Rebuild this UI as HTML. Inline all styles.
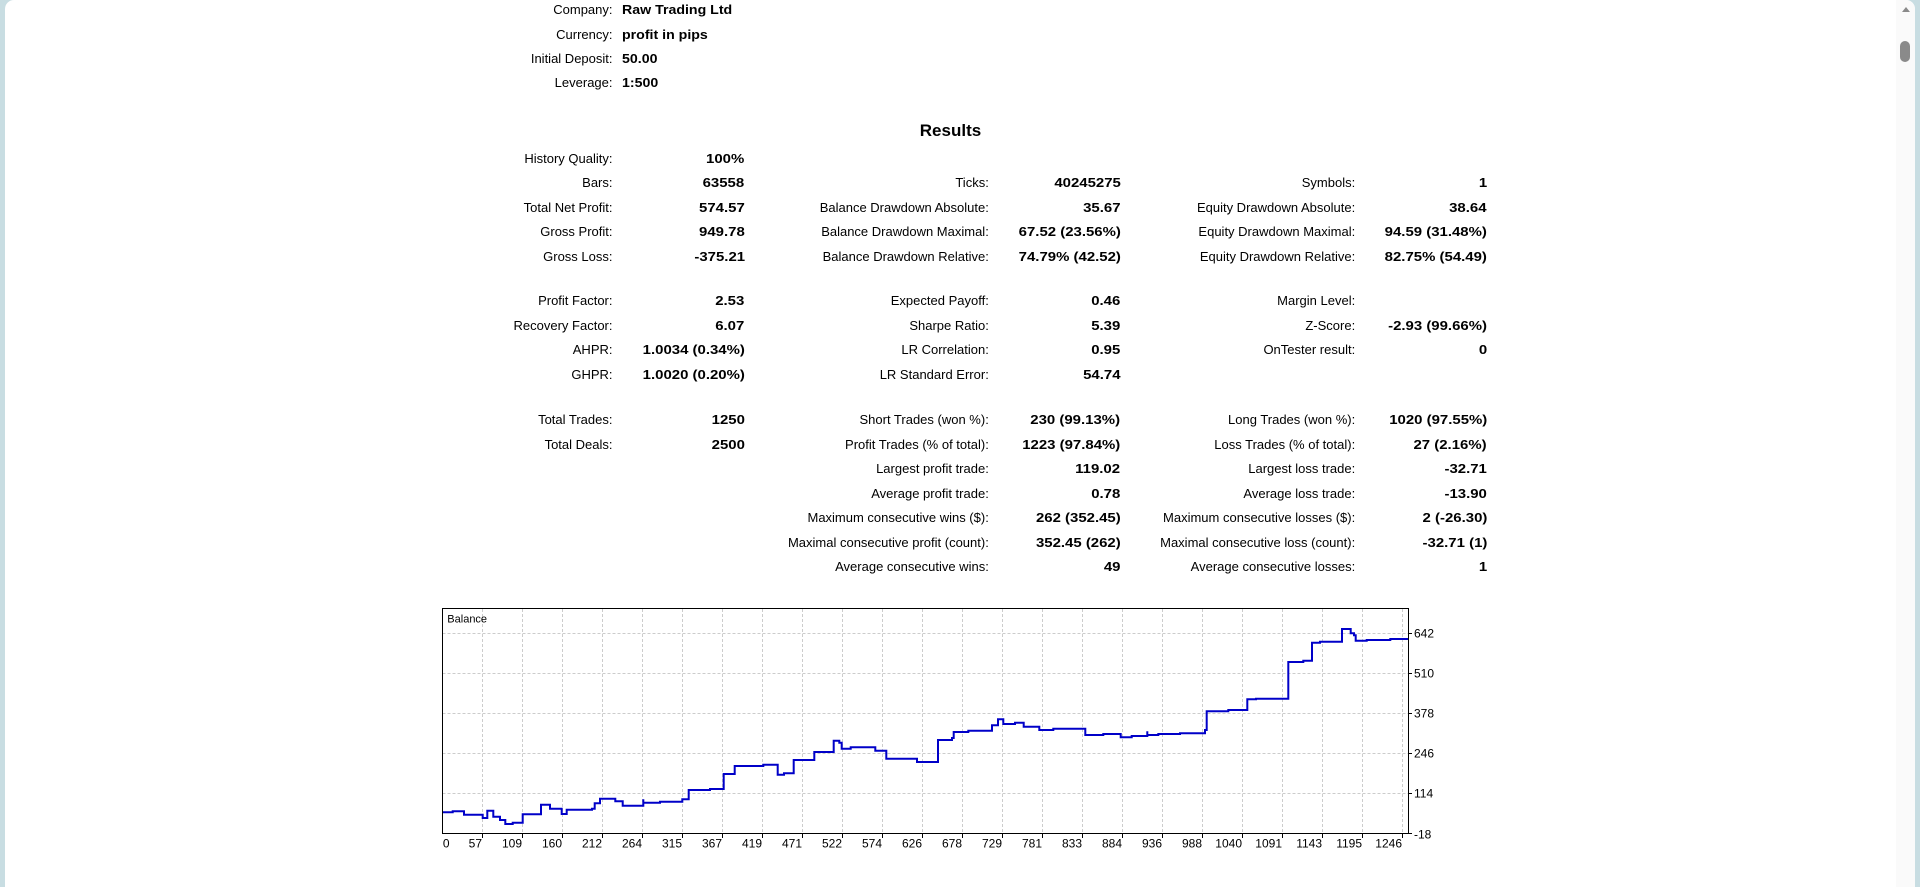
<!DOCTYPE html>
<html><head><meta charset="utf-8"><style>
html,body{margin:0;padding:0}
body{width:1920px;height:887px;overflow:hidden;background:#c8dde2;position:relative;font-family:"Liberation Sans",sans-serif}
#panel{position:absolute;left:5px;top:0;width:1910px;height:887px;background:#fff;border-radius:9px 9px 0 0}
#track{position:absolute;left:1896px;top:0;width:19px;height:887px;background:#fafafa;border-radius:0 9px 0 0}
#thumb{position:absolute;left:1900px;top:41px;width:10px;height:21px;background:#8a8a8a;border-radius:5px}
#arrow{position:absolute;left:1902px;top:7px;width:0;height:0;border-left:4px solid transparent;border-right:4px solid transparent;border-bottom:5px solid #8a8a8a}
.t{position:absolute;white-space:nowrap;font-size:13px;line-height:16px;color:#000}
.v{font-weight:bold;transform:scaleX(1.15);transform-origin:100% 50%}
.vl{font-weight:bold;transform:scaleX(1.09);transform-origin:0 50%}
.a{right:1307.5px}.b{right:1175.4px}.c{right:931.2px}.d{right:799.5px}.e{right:564.8px}.f{right:433px}
#title{position:absolute;left:850px;width:201px;text-align:center;top:121px;font-weight:bold;font-size:17px;line-height:20px}
svg{position:absolute;left:0;top:0}
</style></head><body>
<div id="panel"></div>
<div id="track"></div>
<div id="arrow"></div>
<div id="thumb"></div>

<div class="t a" style="top:1.8px">Company:</div><div class="t vl" style="left:622.4px;top:1.8px">Raw Trading Ltd</div>
<div class="t a" style="top:26.8px">Currency:</div><div class="t vl" style="left:622.4px;top:26.8px">profit in pips</div>
<div class="t a" style="top:50.8px">Initial Deposit:</div><div class="t vl" style="left:622.4px;top:50.8px">50.00</div>
<div class="t a" style="top:75.3px">Leverage:</div><div class="t vl" style="left:622.4px;top:75.3px">1:500</div>

<div id="title">Results</div>

<!-- row 0 -->
<div class="t a" style="top:150.6px">History Quality:</div><div class="t v b" style="top:150.6px">100%</div>
<!-- row 1 -->
<div class="t a" style="top:175.1px">Bars:</div><div class="t v b" style="top:175.1px">63558</div>
<div class="t c" style="top:175.1px">Ticks:</div><div class="t v d" style="top:175.1px">40245275</div>
<div class="t e" style="top:175.1px">Symbols:</div><div class="t v f" style="top:175.1px">1</div>
<!-- row 2 -->
<div class="t a" style="top:199.6px">Total Net Profit:</div><div class="t v b" style="top:199.6px">574.57</div>
<div class="t c" style="top:199.6px">Balance Drawdown Absolute:</div><div class="t v d" style="top:199.6px">35.67</div>
<div class="t e" style="top:199.6px">Equity Drawdown Absolute:</div><div class="t v f" style="top:199.6px">38.64</div>
<!-- row 3 -->
<div class="t a" style="top:224.1px">Gross Profit:</div><div class="t v b" style="top:224.1px">949.78</div>
<div class="t c" style="top:224.1px">Balance Drawdown Maximal:</div><div class="t v d" style="top:224.1px">67.52 (23.56%)</div>
<div class="t e" style="top:224.1px">Equity Drawdown Maximal:</div><div class="t v f" style="top:224.1px">94.59 (31.48%)</div>
<!-- row 4 -->
<div class="t a" style="top:248.6px">Gross Loss:</div><div class="t v b" style="top:248.6px">-375.21</div>
<div class="t c" style="top:248.6px">Balance Drawdown Relative:</div><div class="t v d" style="top:248.6px">74.79% (42.52)</div>
<div class="t e" style="top:248.6px">Equity Drawdown Relative:</div><div class="t v f" style="top:248.6px">82.75% (54.49)</div>
<!-- row 5 -->
<div class="t a" style="top:293.3px">Profit Factor:</div><div class="t v b" style="top:293.3px">2.53</div>
<div class="t c" style="top:293.3px">Expected Payoff:</div><div class="t v d" style="top:293.3px">0.46</div>
<div class="t e" style="top:293.3px">Margin Level:</div>
<!-- row 6 -->
<div class="t a" style="top:317.8px">Recovery Factor:</div><div class="t v b" style="top:317.8px">6.07</div>
<div class="t c" style="top:317.8px">Sharpe Ratio:</div><div class="t v d" style="top:317.8px">5.39</div>
<div class="t e" style="top:317.8px">Z-Score:</div><div class="t v f" style="top:317.8px">-2.93 (99.66%)</div>
<!-- row 7 -->
<div class="t a" style="top:342.3px">AHPR:</div><div class="t v b" style="top:342.3px">1.0034 (0.34%)</div>
<div class="t c" style="top:342.3px">LR Correlation:</div><div class="t v d" style="top:342.3px">0.95</div>
<div class="t e" style="top:342.3px">OnTester result:</div><div class="t v f" style="top:342.3px">0</div>
<!-- row 8 -->
<div class="t a" style="top:366.8px">GHPR:</div><div class="t v b" style="top:366.8px">1.0020 (0.20%)</div>
<div class="t c" style="top:366.8px">LR Standard Error:</div><div class="t v d" style="top:366.8px">54.74</div>
<!-- row 9 -->
<div class="t a" style="top:412.3px">Total Trades:</div><div class="t v b" style="top:412.3px">1250</div>
<div class="t c" style="top:412.3px">Short Trades (won %):</div><div class="t v d" style="top:412.3px">230 (99.13%)</div>
<div class="t e" style="top:412.3px">Long Trades (won %):</div><div class="t v f" style="top:412.3px">1020 (97.55%)</div>
<!-- row 10 -->
<div class="t a" style="top:436.8px">Total Deals:</div><div class="t v b" style="top:436.8px">2500</div>
<div class="t c" style="top:436.8px">Profit Trades (% of total):</div><div class="t v d" style="top:436.8px">1223 (97.84%)</div>
<div class="t e" style="top:436.8px">Loss Trades (% of total):</div><div class="t v f" style="top:436.8px">27 (2.16%)</div>
<!-- row 11 -->
<div class="t c" style="top:461.3px">Largest profit trade:</div><div class="t v d" style="top:461.3px">119.02</div>
<div class="t e" style="top:461.3px">Largest loss trade:</div><div class="t v f" style="top:461.3px">-32.71</div>
<!-- row 12 -->
<div class="t c" style="top:485.8px">Average profit trade:</div><div class="t v d" style="top:485.8px">0.78</div>
<div class="t e" style="top:485.8px">Average loss trade:</div><div class="t v f" style="top:485.8px">-13.90</div>
<!-- row 13 -->
<div class="t c" style="top:510.3px">Maximum consecutive wins ($):</div><div class="t v d" style="top:510.3px">262 (352.45)</div>
<div class="t e" style="top:510.3px">Maximum consecutive losses ($):</div><div class="t v f" style="top:510.3px">2 (-26.30)</div>
<!-- row 14 -->
<div class="t c" style="top:534.8px">Maximal consecutive profit (count):</div><div class="t v d" style="top:534.8px">352.45 (262)</div>
<div class="t e" style="top:534.8px">Maximal consecutive loss (count):</div><div class="t v f" style="top:534.8px">-32.71 (1)</div>
<!-- row 15 -->
<div class="t c" style="top:559.3px">Average consecutive wins:</div><div class="t v d" style="top:559.3px">49</div>
<div class="t e" style="top:559.3px">Average consecutive losses:</div><div class="t v f" style="top:559.3px">1</div>

<svg width="1920" height="887" viewBox="0 0 1920 887" xmlns="http://www.w3.org/2000/svg">
<g stroke="#cccccc" stroke-width="1" stroke-dasharray="3,2" fill="none">
<path d="M442.5 633.5H1408.5M442.5 673.5H1408.5M442.5 713.5H1408.5M442.5 753.5H1408.5M442.5 793.5H1408.5"/>
<path d="M482.5 609V833M522.5 609V833M562.5 609V833M602.5 609V833M642.5 609V833M682.5 609V833M722.5 609V833M762.5 609V833M802.5 609V833M842.5 609V833M882.5 609V833M922.5 609V833M962.5 609V833M1002.5 609V833M1042.5 609V833M1082.5 609V833M1122.5 609V833M1162.5 609V833M1202.5 609V833M1242.5 609V833M1282.5 609V833M1322.5 609V833M1362.5 609V833M1402.5 609V833"/>
</g>
<rect x="442.5" y="608.5" width="966" height="225" fill="none" stroke="#000" stroke-width="1"/>
<g stroke="#000" stroke-width="1">
<path d="M482.5 834V838M522.5 834V838M562.5 834V838M602.5 834V838M642.5 834V838M682.5 834V838M722.5 834V838M762.5 834V838M802.5 834V838M842.5 834V838M882.5 834V838M922.5 834V838M962.5 834V838M1002.5 834V838M1042.5 834V838M1082.5 834V838M1122.5 834V838M1162.5 834V838M1202.5 834V838M1242.5 834V838M1282.5 834V838M1322.5 834V838M1362.5 834V838M1402.5 834V838"/>
<path d="M1409 633.5H1412M1409 673.5H1412M1409 713.5H1412M1409 753.5H1412M1409 793.5H1412M1409 833.5H1412"/>
</g>
<path fill="none" stroke="#0000c8" stroke-width="2" d="M443,812.3 H452.7 V811.3 H464 V814.7 H482.7 V818 H487.3 V810.7 H493.3 V816.7 H500 V820 H505.3 V824 H512.7 V822.7 H522.7 V814.3 H541 V804.7 H550 V808.7 H561.7 V814 H566.7 V809.7 H592 V808.7 H594.7 V803.3 H600 V798.7 H615.3 V801.3 H622.7 V805.7 H643.3 V799.3 V802.7 H660 V801.7 H682.3 V799.3 H688.7 V790 H710 V789 H723.7 V774 H734.7 V766 H763.3 V764.7 H777.7 V774.7 H784 V773.3 H793.7 V760 H814.3 V752 H833.7 V740.7 H839.3 V742.7 H841.7 V748.7 H850.7 V747.3 H875.3 V750.7 H886.3 V758.7 H917 V762 H938 V740 H952 V738 H953.7 V732 H968.3 V730.7 H992 V725.3 H998 V719.3 H1003.3 V724 H1015 V722.7 H1023.7 V726.7 H1039.3 V730 H1053.3 V728.7 H1085.3 V735 H1103.3 V734 H1120.7 V737.3 H1131.7 V736 H1147.3 V731.3 V735 H1158.3 V734 H1180 V733.3 H1205 V730 H1206.7 V711.3 H1228.3 V710 H1247.3 V699.3 H1256 V698.7 H1288.3 V662 H1303.3 V660.7 H1312 V642.7 H1320 V641.7 H1342 V629 H1350.7 V633.3 H1354 V635.3 H1355.7 V640.7 H1366.7 V640 H1390.3 V639 H1408"/>
<text x="447.3" y="622.3" font-family="Liberation Sans, sans-serif" font-size="11" fill="#000">Balance</text>
<g font-family="Liberation Sans, sans-serif" font-size="12" fill="#000">
<text x="1414" y="637.6">642</text>
<text x="1414" y="677.6">510</text>
<text x="1414" y="717.6">378</text>
<text x="1414" y="757.6">246</text>
<text x="1414" y="797.6">114</text>
<text x="1414" y="838.3">-18</text>
</g>
<g font-family="Liberation Sans, sans-serif" font-size="12" fill="#000" text-anchor="end">
<text x="449.5" y="847.6">0</text>
<text x="482" y="847.6">57</text>
<text x="522" y="847.6">109</text>
<text x="562" y="847.6">160</text>
<text x="602" y="847.6">212</text>
<text x="642" y="847.6">264</text>
<text x="682" y="847.6">315</text>
<text x="722" y="847.6">367</text>
<text x="762" y="847.6">419</text>
<text x="802" y="847.6">471</text>
<text x="842" y="847.6">522</text>
<text x="882" y="847.6">574</text>
<text x="922" y="847.6">626</text>
<text x="962" y="847.6">678</text>
<text x="1002" y="847.6">729</text>
<text x="1042" y="847.6">781</text>
<text x="1082" y="847.6">833</text>
<text x="1122" y="847.6">884</text>
<text x="1162" y="847.6">936</text>
<text x="1202" y="847.6">988</text>
<text x="1242" y="847.6">1040</text>
<text x="1282" y="847.6">1091</text>
<text x="1322" y="847.6">1143</text>
<text x="1362" y="847.6">1195</text>
<text x="1402" y="847.6">1246</text>
</g>
</svg>
</body></html>
